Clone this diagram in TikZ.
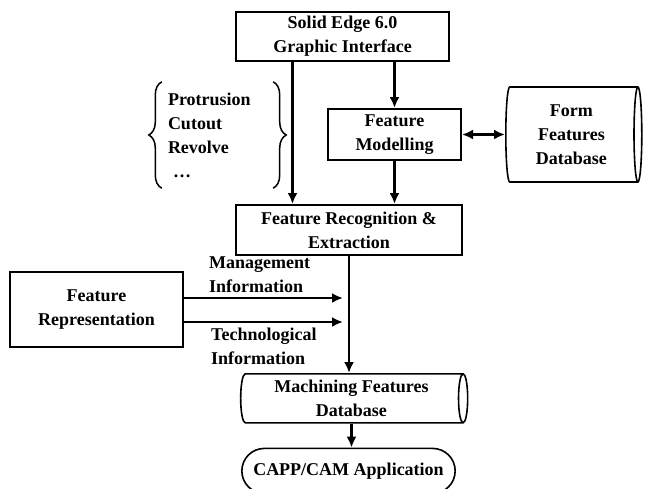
\documentclass[tikz,border=0pt]{standalone}
\usepackage{fontspec}
\setmainfont{Liberation Serif}
\usepackage{tikz}
\usetikzlibrary{shapes,shapes.misc,arrows.meta,positioning,decorations.pathreplacing}
\tikzstyle{process} = [rectangle, draw=black, line width=2pt, text centered, align=center, inner sep=2pt]
\tikzstyle{database} = [cylinder, draw=black, line width=1.6pt, align=center, inner sep=0pt]
\tikzstyle{terminal} = [rounded rectangle, draw=black, line width=1.6pt, align=center]
\tikzstyle{info} = [align=left, anchor=west, inner sep=0pt]
\tikzstyle{arrow} = [line width=2.3pt,-{Latex[length=11pt,width=10pt]}]
\tikzstyle{darrow} = [line width=2.3pt,{Latex[length=11pt,width=10pt]}-{Latex[length=11pt,width=10pt]}]
\tikzstyle{curly} = [decorate, decoration={brace, amplitude=13pt}, line width=1.5pt]

\begin{document}
\begin{tikzpicture}[x=1pt, y=-1pt, font=\fontsize{18}{24}\selectfont\bfseries]
        \useasboundingbox (0,0) rectangle (647,488);

        % Main column
        \node (gui) [process, minimum width=213, minimum height=49] at (342.5,36.5) {Solid Edge 6.0\\Graphic Interface};
        \node (fm) [process, minimum width=133, minimum height=51, below=46pt of gui, xshift=52pt] {Feature\\Modelling};
        \node (rec) [process, minimum width=226, minimum height=50, below=43pt of fm, xshift=-45.5pt] {Feature Recognition \&\\Extraction};
        \node (mfdb) [database, minimum height=227, minimum width=49, aspect=0.25, below=117pt of rec, xshift=2.5pt] {Machining Features\\Database};
        \node (capp) [terminal, minimum width=220, minimum height=45, below=24pt of mfdb, xshift=-3pt] {CAPP/CAM Application};

        % Side nodes
        \node (ffdb) [database, minimum height=136, minimum width=95, aspect=0.13, right=43pt of fm] {Form\\Features\\Database};
        \node (rep) [process, minimum width=173, minimum height=75] at (96.5,309.5) {Feature\\Representation};
        \node (feats) [align=left, inner sep=0pt, text width=88, minimum height=106] at (212,135) {Protrusion\\Cutout\\Revolve\\\hspace{5pt}\ldots};
        \draw [curly] ([xshift=-6pt]feats.south west) -- ([xshift=-6pt]feats.north west);
        \draw [curly] ([xshift=17pt]feats.north east) -- ([xshift=17pt]feats.south east);

        % Connections
        \draw [arrow] ([xshift=-50pt]gui.south) -- ([xshift=-50pt]gui.south |- rec.north);
        \draw [arrow] (gui.south -| fm.north) -- (fm.north);
        \draw [darrow] (fm.east) -- (fm.east -| ffdb.west);
        \draw [arrow] (fm.south) -- (fm.south |- rec.north);
        \draw [arrow] (rec.south) -- (rec.south |- mfdb.north);
        \draw [arrow] (mfdb.south) -- (mfdb.south |- capp.north);

        % Information flows
        \coordinate (mgmt) at (343,298);
        \coordinate (tech) at (343,322);
        \draw [arrow] (rep.east |- mgmt) -- (mgmt);
        \draw [arrow] (rep.east |- tech) -- (tech);
        \node (mgmtlbl) [info] at (209,275) {Management\\Information};
        \node (techlbl) [info] at (211,346) {Technological\\Information};
    \end{tikzpicture}
\end{document}
